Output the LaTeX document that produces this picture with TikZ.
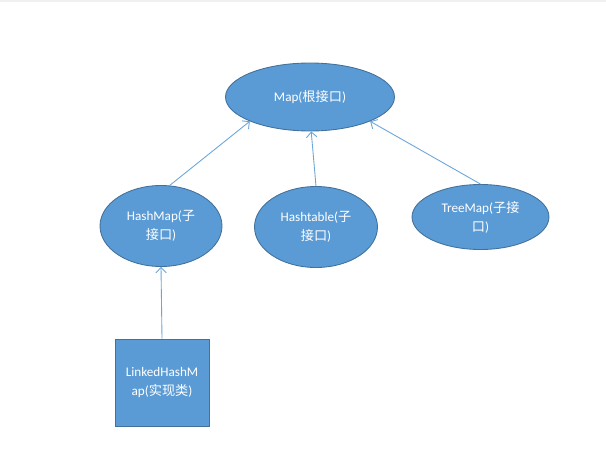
\documentclass[tikz,border=0pt]{standalone}
\usepackage{fontspec}
\setmainfont{Carlito}
\newfontfamily\cjk{Noto Sans CJK SC}
\usetikzlibrary{shapes.geometric,arrows.meta}
\definecolor{boxfill}{HTML}{5B9BD5}
\definecolor{boxline}{HTML}{41719C}
\definecolor{arrline}{HTML}{6BA5DA}

\begin{document}
\begin{tikzpicture}[x=0.02cm,y=-0.02cm,
  ifnode/.style={ellipse, fill=boxfill, draw=boxline, line width=.5pt, inner sep=0pt,
    text=white, align=center, font=\fontsize{7.5}{10.8}\selectfont},
  implbox/.style={rectangle, fill=boxfill, draw=boxline, line width=.5pt, inner sep=0pt,
    text=white, align=center, font=\fontsize{7.5}{10.8}\selectfont},
  arrowline/.style={draw=arrline, line width=.5pt, -{Straight Barb[length=3pt,width=6pt]}}]
\useasboundingbox (0,0) rectangle (606,463);
\fill[black!6] (0,0) rectangle (606,2);
% interfaces
\node[ifnode, minimum width=3.38cm, minimum height=1.36cm] (map) at (310,97) {Map({\cjk 根接口})};
\node[ifnode, minimum width=2.44cm, minimum height=1.62cm] (hashmap) at (161,226) {HashMap({\cjk 子}\\{\cjk 接口})};
\node[ifnode, minimum width=2.46cm, minimum height=1.62cm] (hashtable) at (316,227) {Hashtable({\cjk 子}\\{\cjk 接口})};
\node[ifnode, minimum width=2.74cm, minimum height=1.30cm] (treemap) at (480.5,217) {TreeMap({\cjk 子接}\\{\cjk 口})};
% implementation
\node[implbox, minimum width=1.88cm, minimum height=1.74cm] (linked) at (162,382.5) {LinkedHashM\\ap({\cjk 实现类})};
% arrows
\draw[arrowline] (hashmap.78) -- (map.202);
\draw[arrowline] (hashtable.north) -- (map.272);
\draw[arrowline] (treemap.north) -- (map.338);
\draw[arrowline] (linked.north) -- (hashmap.south);
\end{tikzpicture}
\end{document}
